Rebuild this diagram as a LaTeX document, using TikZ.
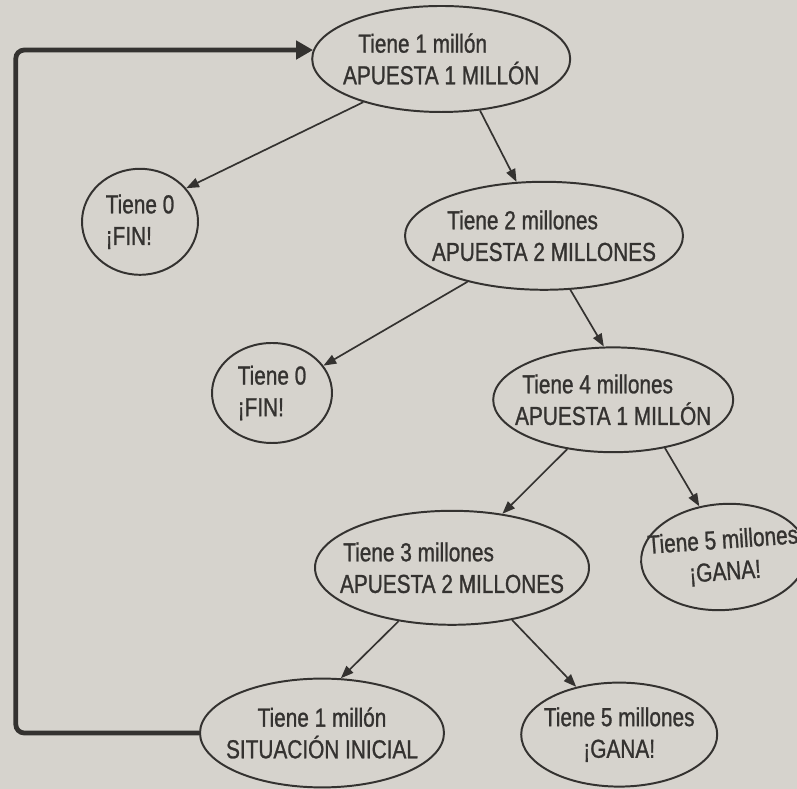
\documentclass[tikz,border=0pt]{standalone}
\usepackage{fontspec}
\setmainfont{Liberation Sans}[FakeStretch=0.8, FakeBold=1]
\usepackage{tikz}
\usetikzlibrary{shapes.geometric}
\usetikzlibrary{arrows.meta}

\definecolor{paper}{RGB}{214,211,205}
\definecolor{ink}{RGB}{52,50,48}

\tikzset{
    state/.style={ellipse, draw=ink, line width=1.4pt, inner xsep=-0.55cm, inner ysep=0pt,
        text=ink, font=\fontsize{18.5}{22.5}\selectfont},
    arr/.style={-{Triangle[length=0.32cm,width=0.24cm]}, draw=ink, line width=1.2pt},
    backloop/.style={-{Triangle[length=0.42cm,width=0.45cm]}, draw=ink, line width=3.4pt,
        rounded corners=6pt}
}

\begin{document}
\begin{tikzpicture}[scale=1.0]
    % ---------------- page ----------------
    \fill[paper] (0,0) rectangle (19.925,19.725);
    \useasboundingbox (0,0) rectangle (19.925,19.725);

    % ---------------- states ----------------
    \node[state, align=left, minimum width=6.45cm, minimum height=2.65cm] (N1) at (11.03,18.25)
        {\hspace*{0.38cm}Tiene 1 millón\\APUESTA 1 MILLÓN};
    \node[state, align=left, minimum width=2.9cm, minimum height=2.65cm] (F1) at (3.5,14.18)
        {Tiene 0\\¡FIN!};
    \node[state, align=left, minimum width=6.95cm, minimum height=2.7cm] (N2) at (13.6,13.83)
        {\hspace*{0.38cm}Tiene 2 millones\\APUESTA 2 MILLONES};
    \node[state, align=left, minimum width=3.0cm, minimum height=2.5cm] (F2) at (6.8,9.9)
        {Tiene 0\\¡FIN!};
    \node[state, align=left, minimum width=6.0cm, minimum height=2.62cm] (N4) at (15.33,9.73)
        {\hspace*{0.18cm}Tiene 4 millones\\APUESTA 1 MILLÓN};
    \node[state, align=left, minimum width=6.85cm, minimum height=2.85cm] (N3) at (11.3,5.53)
        {\hspace*{0.08cm}Tiene 3 millones\\APUESTA 2 MILLONES};
    \node[state, align=center, rotate=4, minimum width=4.15cm, minimum height=2.65cm] (G1) at (18.1,5.8)
        {Tiene 5 millones\\¡GANA!};
    \node[state, align=center, minimum width=6.1cm, minimum height=2.72cm] (S) at (8.05,1.4)
        {Tiene 1 millón\\SITUACIÓN INICIAL};
    \node[state, align=center, minimum width=4.9cm, minimum height=2.6cm] (G2) at (15.48,1.36)
        {Tiene 5 millones\\¡GANA!};

    % ---------------- bets ----------------
    \draw[arr] (N1.-151) -- (F1.36);
    \draw[arr] (N1.-53) -- (N2.117);
    \draw[arr] (N2.-149) -- (F2.28);
    \draw[arr] (N2.-64) -- (N4.100);
    \draw[arr] (N4.-133) -- (N3.47);
    \draw[arr] (N4.-43) -- (G1.112);
    \draw[arr] (N3.-135) -- (S.71);
    \draw[arr] (N3.-41) -- (G2.132);

    % ---------------- back to start ----------------
    \draw[backloop] (S.west) -- ++(-4.58,0) |- (N1.176);
\end{tikzpicture}
\end{document}
